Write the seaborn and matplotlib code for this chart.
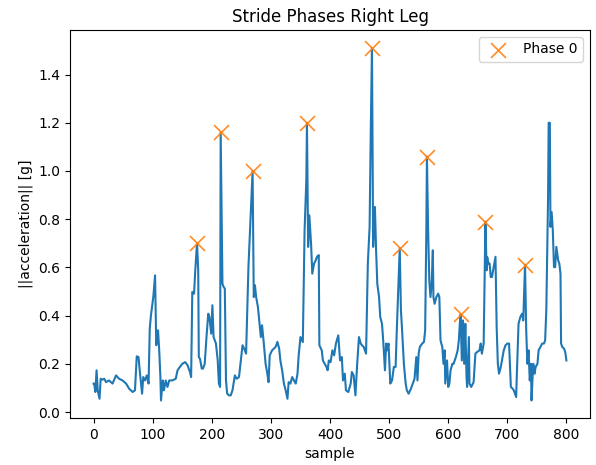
import matplotlib
matplotlib.use("Agg")
import matplotlib.pyplot as plt
import seaborn as sns
import pandas as pd

# ---- data (sample index, |acceleration| in g) ----
trace_a = [(0,0.118),(1,0.118),(3,0.083),(5,0.173),(7,0.090),(10,0.055),(12,0.138),(15,0.134),
           (18,0.138),(21,0.124),(26,0.131),(32,0.118),(38,0.152),(43,0.138),(49,0.131),(55,0.118),
           (60,0.097),(66,0.083),(70,0.090),(73,0.231),(76,0.228),(78,0.173),(82,0.076),(84,0.145),
           (87,0.131),(90,0.152),(93,0.118),(95,0.346),(97,0.401),(101,0.477),(104,0.567),(106,0.277),
           (109,0.339),(111,0.256),(113,0.145),(114,0.048),(117,0.131),(119,0.090),(122,0.131),(125,0.104),
           (128,0.131),(133,0.131),(139,0.138),(142,0.173),(146,0.187),(150,0.200),(155,0.207),(159,0.194),
           (163,0.166),(165,0.145),(167,0.498),(170,0.491),(172,0.588),(175,0.700),(177,0.588),(178,0.228),
           (180,0.221),(183,0.180),(185,0.180),(188,0.200),(191,0.311),(194,0.408),(196,0.394),(199,0.325),
           (201,0.443),(203,0.311),(207,0.284),(210,0.214),(212,0.118),(214,0.104),(215,1.160),(218,0.532),
           (220,0.519),(222,0.512),(224,0.131),(226,0.076),(229,0.069),(232,0.069),(235,0.090),(239,0.152),
           (242,0.138),(246,0.145)]
trace_b = [(252,0.277),(256,0.256),(258,0.242),(262,0.602),(265,0.770),(269,1.000),(271,0.477),(273,0.526),
           (275,0.477),(278,0.436),(281,0.360),(283,0.311),(285,0.360),(288,0.284),(291,0.200),(294,0.159),
           (296,0.124),(298,0.235),(302,0.256),(308,0.270),(311,0.291),(314,0.263),(316,0.214),(319,0.173),
           (322,0.118),(325,0.090),(328,0.055),(330,0.124),(333,0.118),(336,0.145),(339,0.131),(342,0.118),
           (345,0.159),(347,0.235),(350,0.311),(354,0.290),(357,0.754),(360,0.968),(361,1.200),(363,0.685),
           (365,0.816),(368,0.697),(370,0.574),(373,0.616),(376,0.630),(378,0.644),(381,0.651),(382,0.277),
           (386,0.256),(388,0.214),(391,0.200),(394,0.187),(396,0.173),(398,0.214),(401,0.207),(404,0.256),
           (407,0.235),(410,0.284),(414,0.318),(417,0.214),(420,0.228),(422,0.131),(425,0.159),(427,0.090),
           (431,0.083),(435,0.118),(437,0.166),(440,0.152),(443,0.069),(446,0.200),(449,0.311),(452,0.284),
           (454,0.277),(457,0.270),(461,0.242),(464,0.616),(467,0.768),(469,1.170),(471,1.510),(473,0.685),
           (476,0.851),(478,0.671),(480,0.532),(483,0.477),(485,0.394),(488,0.366),(490,0.297),(493,0.173),
           (495,0.284),(497,0.256),(499,0.284),(502,0.118),(505,0.131),(508,0.187),(511,0.187),(513,0.339),
           (516,0.546),(518,0.680),(520,0.422),(522,0.339),(525,0.200),(528,0.118),(530,0.090),(533,0.076)]
trace_c = [(537,0.097),(540,0.118),(543,0.138),(546,0.228),(548,0.131),(550,0.242),(552,0.270),(556,0.284),
           (559,0.291),(561,0.339),(563,0.754),(564,1.060),(566,0.754),(568,0.546),(570,0.477),(572,0.532),
           (574,0.671),(575,0.477),(577,0.449),(580,0.477),(583,0.491),(585,0.477),(587,0.297),(590,0.270),
           (592,0.200),(594,0.256),(595,0.118),(598,0.214),(600,0.104),(602,0.118),(604,0.173),(607,0.200),
           (609,0.200),(611,0.214),(613,0.228),(616,0.256),(618,0.297),(620,0.380),(621,0.405),(623,0.214),
           (625,0.380),(627,0.200),(629,0.366),(631,0.145),(632,0.104),(635,0.311),(636,0.118),(639,0.104),
           (643,0.124),(646,0.242),(649,0.249),(653,0.256),(655,0.284),(657,0.242),(660,0.284),(662,0.616),
           (663,0.790),(665,0.588),(666,0.643),(668,0.616),(670,0.616),(672,0.560),(674,0.560),(677,0.602),
           (680,0.644),(682,0.353),(684,0.200),(686,0.159),(689,0.187),(691,0.214),(694,0.256),(697,0.277),
           (700,0.284),(703,0.284),(706,0.104),(709,0.097),(711,0.090),(715,0.062),(716,0.145),(719,0.366),
           (722,0.394),(725,0.408),(727,0.380),(730,0.610),(732,0.339),(734,0.200),(736,0.256),(738,0.131),
           (740,0.200),(741,0.048),(743,0.159),(744,0.200),(746,0.159),(748,0.187),(751,0.200),(753,0.256),
           (756,0.270),(759,0.284),(762,0.284),(764,0.297),(766,0.422),(769,0.892),(770,1.200),(772,1.200),
           (773,0.768),(775,0.830),(777,0.754),(779,0.601),(781,0.601),(783,0.685),(786,0.630),(788,0.616),
           (790,0.574),(791,0.284),(793,0.270),(796,0.263),(798,0.249),(800,0.214)]

phase0_sample = [175, 215, 269, 361, 471, 518, 564, 621, 663, 730]
phase0_value = [0.70, 1.16, 1.00, 1.20, 1.51, 0.68, 1.06, 0.405, 0.79, 0.61]

title = "Stride Phases Right Leg"
xlabel = "sample"
ylabel = "||acceleration|| [g]"
legend_label = "Phase 0"

# ---- build tables ----
trace = trace_a + trace_b + trace_c
df = pd.DataFrame(trace, columns=["sample", "acc"])
peaks = pd.DataFrame({"sample": phase0_sample, "acc": phase0_value})

fig = plt.figure(figsize=(5.96, 4.65), dpi=100)
ax = fig.add_subplot(111)
fig.subplots_adjust(left=0.1174, right=0.99, top=0.9355, bottom=0.101)

sns.lineplot(data=df, x="sample", y="acc", ax=ax, color="C0", linewidth=1.5, sort=False)
sns.scatterplot(data=peaks, x="sample", y="acc", ax=ax, marker="x", s=115,
                color="C1", linewidth=1.2, alpha=0.9, label=legend_label, zorder=3)

ax.set_title(title)
ax.set_xlabel(xlabel)
ax.set_ylabel(ylabel)
ax.set_xlim(-40, 840)
ax.set_ylim(-0.025, 1.585)
ax.set_xticks(range(0, 801, 100))
ax.set_yticks([0.0, 0.2, 0.4, 0.6, 0.8, 1.0, 1.2, 1.4])
ax.legend(loc="upper right")

fig.savefig("out.png", dpi=100)
